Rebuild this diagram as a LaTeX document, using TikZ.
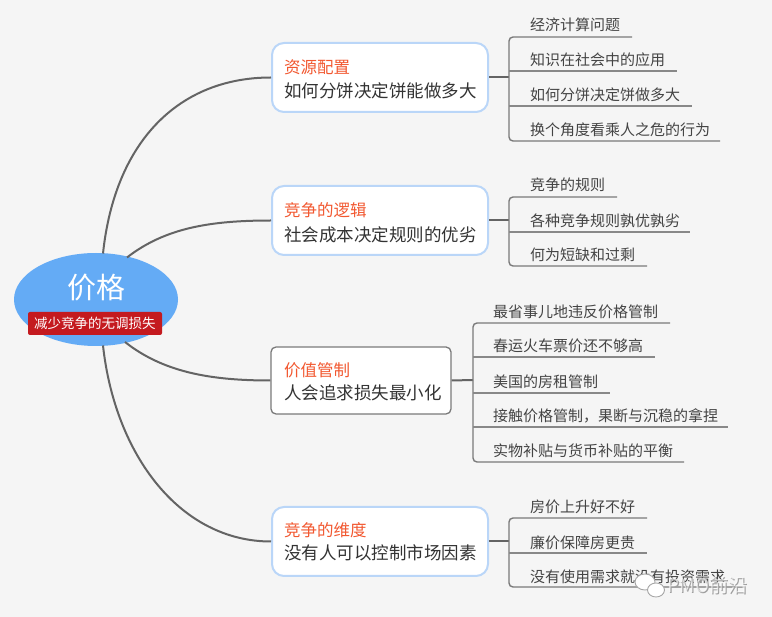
\documentclass[tikz,border=0pt]{standalone}
\usepackage{fontspec}
\setmainfont{Noto Sans CJK SC}
\usetikzlibrary{shapes.geometric}
\definecolor{bg}{RGB}{245,245,245}
\definecolor{rootblue}{RGB}{100,171,245}
\definecolor{labelred}{RGB}{196,26,31}
\definecolor{boxblue}{RGB}{186,214,248}
\definecolor{boxgray}{RGB}{122,122,122}
\definecolor{titleorange}{RGB}{242,88,48}
\definecolor{subdark}{RGB}{51,51,51}
\definecolor{leafdark}{RGB}{68,68,68}
\definecolor{linegray}{RGB}{100,100,100}
\definecolor{ulgray}{RGB}{136,136,136}
\tikzset{
  roundbox/.style={draw=boxblue, line width=2pt, fill=white, rounded corners=12pt, minimum width=216pt, minimum height=69pt, inner sep=0pt},
  plainbox/.style={draw=boxgray, line width=1.3pt, fill=white, rounded corners=5pt, minimum width=180pt, minimum height=67pt, inner sep=0pt},
  ttl/.style={anchor=west, inner sep=0pt, text=titleorange, font=\fontsize{16.5}{18}\selectfont},
  sub/.style={anchor=west, inner sep=0pt, text=subdark, font=\fontsize{17.5}{19}\selectfont},
  leaf/.style={anchor=west, inner sep=0pt, text=leafdark, font=\fontsize{15}{17}\selectfont},
  branch/.style={draw=linegray, line width=2pt},
  stub/.style={draw=linegray, line width=2pt},
  brk/.style={draw=boxgray, line width=1.4pt, rounded corners=4pt},
  ul/.style={draw=ulgray, line width=1.3pt}
}
\begin{document}
\begin{tikzpicture}[x=1pt,y=-1pt]
\useasboundingbox (0,0) rectangle (772,617);
\fill[bg] (0,0) rectangle (772,617);

% root
\node[ellipse, fill=rootblue, minimum width=164pt, minimum height=93pt, inner sep=0pt] (root) at (96,299.5) {};
\node[text=white, inner sep=0pt, font=\fontsize{29}{30}\selectfont] (roottxt) at (96,288) {价格};
\node[fill=labelred, rounded corners=2pt, minimum width=134pt, minimum height=23pt, inner sep=0pt, text=white, font=\fontsize{13.5}{15}\selectfont] (rootlab) at (95,323.5) {减少竞争的无调损失};

% branch boxes
\node[roundbox] (b1) at (380,77.5) {};
\node[roundbox] (b2) at (380,220.5) {};
\node[plainbox] (b3) at (361,380.5) {};
\node[roundbox] (b4) at (380,541.5) {};

\node[ttl] (t1) at (284,67) {资源配置};
\node[sub] (s1) at (284,91) {如何分饼决定饼能做多大};
\node[ttl] (t2) at (284,210) {竞争的逻辑};
\node[sub] (s2) at (284,235) {社会成本决定规则的优劣};
\node[ttl] (t3) at (284,370) {价值管制};
\node[sub] (s3) at (284,393) {人会追求损失最小化};
\node[ttl] (t4) at (284,530) {竞争的维度};
\node[sub] (s4) at (284,553) {没有人可以控制市场因素};

% branch curves
\coordinate (r1) at (103,253.5);
\coordinate (r2) at (127,257.5);
\coordinate (r3) at (125,342);
\coordinate (r4) at (103,345.5);
\draw[branch] (r1) .. controls (115,140) and (180,77.5) .. (b1.west);
\draw[branch] (r2) .. controls (165,228) and (210,220.5) .. (b2.west);
\draw[branch] (r3) .. controls (163,372) and (210,380.5) .. (b3.west);
\draw[branch] (r4) .. controls (115,455) and (180,541.5) .. (b4.west);

% group 1
\coordinate (k1) at (509,77.5);
\draw[stub] (b1.east) -- (k1);
\draw[brk] (632,37) -- (509,37) -- (509,141) -- (720,141);
\draw[ul] (509,71) -- (677,71);
\draw[ul] (509,106) -- (692,106);
\node[leaf] (l11) at (530,25) {经济计算问题};
\node[leaf] (l12) at (530,60) {知识在社会中的应用};
\node[leaf] (l13) at (530,94.5) {如何分饼决定饼做多大};
\node[leaf] (l14) at (530,129.5) {换个角度看乘人之危的行为};

% group 2
\coordinate (k2) at (509,220.5);
\draw[stub] (b2.east) -- (k2);
\draw[brk] (617,197) -- (509,197) -- (509,266) -- (647,266);
\draw[ul] (509,232) -- (690,232);
\node[leaf] (l21) at (530,185) {竞争的规则};
\node[leaf] (l22) at (530,220.5) {各种竞争规则孰优孰劣};
\node[leaf] (l23) at (530,254.5) {何为短缺和过剩};

% group 3
\coordinate (k3) at (473,380);
\draw[stub] (b3.east) -- (k3);
\draw[brk] (670,323) -- (473,323) -- (473,462) -- (684,462);
\draw[ul] (473,357) -- (655,357);
\draw[ul] (473,393) -- (610,393);
\draw[ul] (473,427) -- (728,427);
\node[leaf] (l31) at (493,311.5) {最省事儿地违反价格管制};
\node[leaf] (l32) at (493,346) {春运火车票价还不够高};
\node[leaf] (l33) at (493,381.5) {美国的房租管制};
\node[leaf] (l34) at (493,416) {接触价格管制，果断与沉稳的拿捏};
\node[leaf] (l35) at (493,451) {实物补贴与货币补贴的平衡};

% group 4
\coordinate (k4) at (509,541.5);
\draw[stub] (b4.east) -- (k4);
\draw[brk] (647,518) -- (509,518) -- (509,587) -- (742,587);
\draw[ul] (509,553) -- (647,553);
\node[leaf] (l41) at (530,507) {房价上升好不好};
\node[leaf] (l42) at (530,542.5) {廉价保障房更贵};
\node[leaf] (l43) at (530,576.5) {没有使用需求就没有投资需求};

% watermark
\fill[white, draw=gray!70, line width=0.9pt] (645,582) ellipse (10pt and 8pt);
\fill[white, draw=gray!70, line width=0.9pt] (656,590) ellipse (8.5pt and 7pt);
\node[inner sep=0pt, text=gray!75, font=\fontsize{19}{20}\selectfont] (wm0) at (708.5,586) {PMO前沿};
\node[inner sep=0pt, text=white, opacity=0.6, font=\fontsize{19}{20}\selectfont] (wm) at (707.5,585) {PMO前沿};
\end{tikzpicture}
\end{document}
